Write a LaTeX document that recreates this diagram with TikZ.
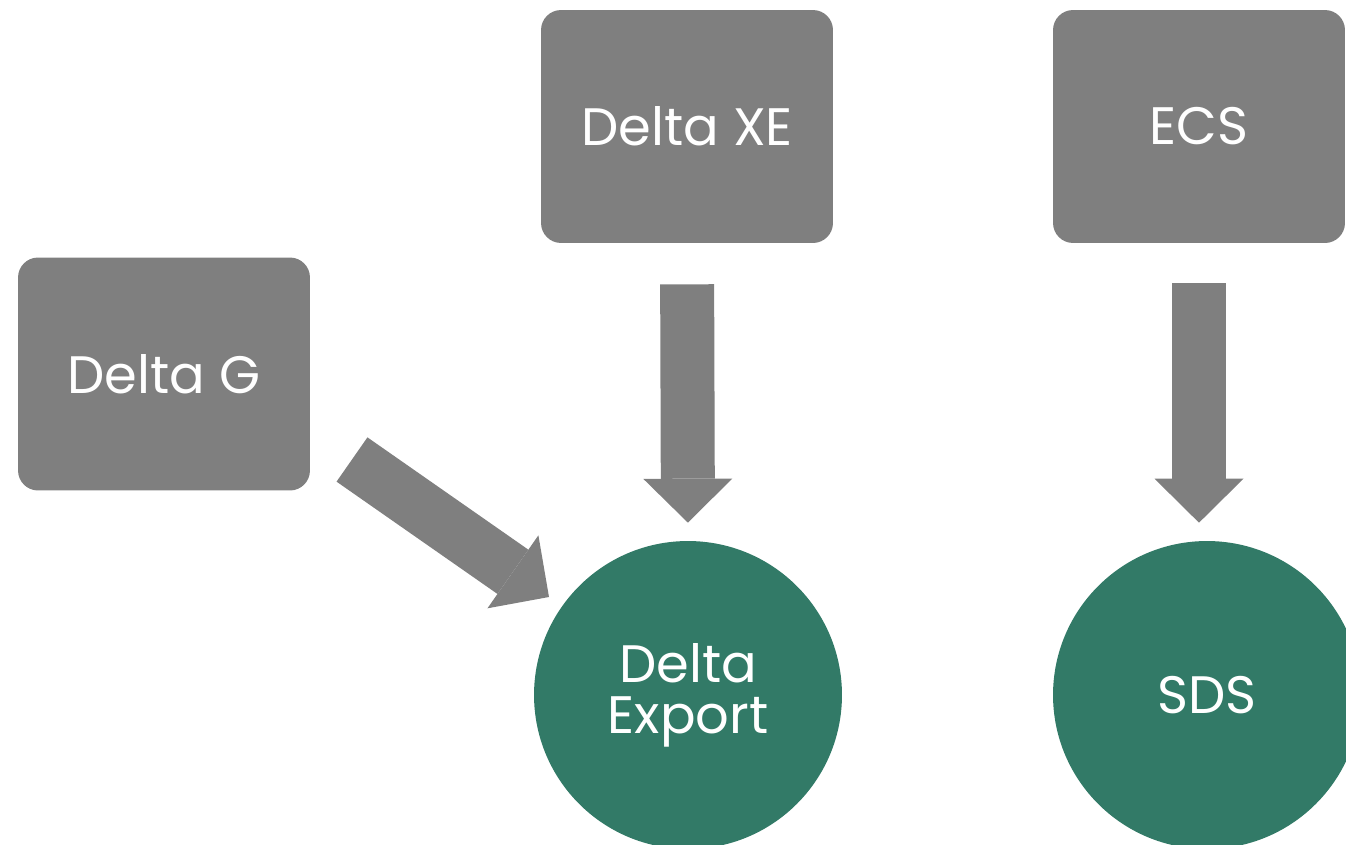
\documentclass[tikz,border=0pt]{standalone}
\usepackage{fontspec}
\setmainfont{Poppins}
\usetikzlibrary{arrows.meta}
\definecolor{boxgray}{RGB}{127,127,127}
\definecolor{pipegreen}{RGB}{50,122,103}
\begin{document}
\begin{tikzpicture}
          [x=0.02cm,y=-0.02cm,
           every node/.style={text=white, font=\fontsize{30}{29}\selectfont, align=center, inner sep=0pt},
           source/.style={fill=boxgray, rounded corners=0.4cm, minimum width=5.84cm, minimum height=4.66cm},
           target/.style={circle, fill=pipegreen, minimum size=6.16cm},
           flow/.style={draw=boxgray, line width=1.08cm, -{Triangle[width=1.78cm,length=0.88cm,line width=0pt]}}]
        \clip (0,0) rectangle (1346,845);

        \node[source] (dxe) at (687,126.5) {Delta XE};
        \node[source] (ecs) at (1199,126.5) {ECS};
        \node[source] (dg) at (164,374) {Delta G};

        \node[target] (dex) at (688,695) {Delta\\Export};
        \node[target] (sds) at (1207,695) {SDS};

        \coordinate (dg-tail) at (352,459.5);
        \coordinate (dex-tip) at (549,597);

        \draw[flow, shorten <=0.82cm, shorten >=0.36cm] (dxe.south) -- (dex.north);
        \draw[flow, shorten <=0.8cm, shorten >=0.36cm] (ecs.south) -- (ecs.south |- sds.north);
        \draw[flow] (dg-tail) -- (dex-tip);
      \end{tikzpicture}
\end{document}
